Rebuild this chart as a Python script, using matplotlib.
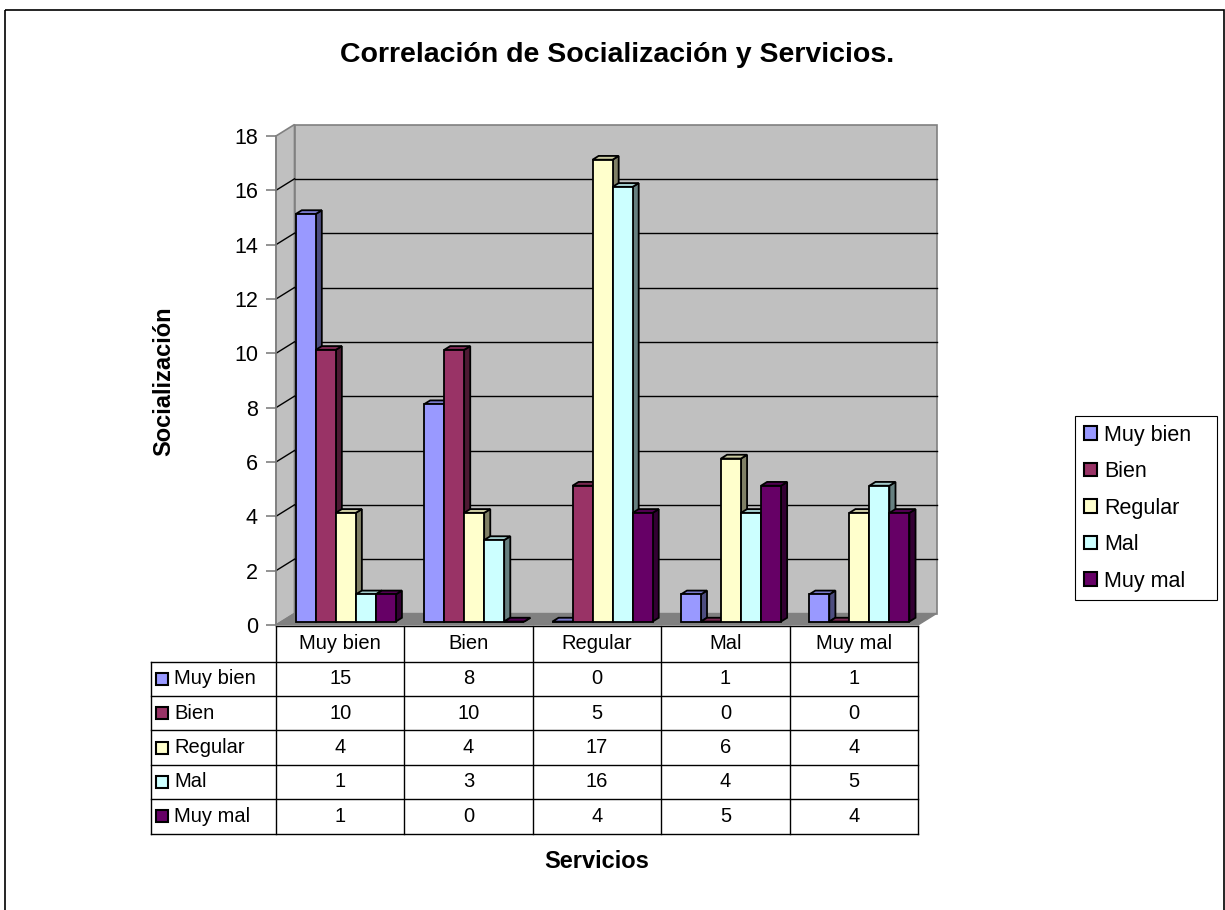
import matplotlib
matplotlib.use("Agg")
import matplotlib.pyplot as plt
from matplotlib.patches import Polygon, Rectangle, Patch
from matplotlib.lines import Line2D

plt.rcParams['font.family'] = ['Liberation Sans', 'DejaVu Sans']

# --- data -------------------------------------------------------------
categories = ["Muy bien", "Bien", "Regular", "Mal", "Muy mal"]
series_names = ["Muy bien", "Bien", "Regular", "Mal", "Muy mal"]
muy_bien = [15, 8, 0, 1, 1]
bien = [10, 10, 5, 0, 0]
regular = [4, 4, 17, 6, 4]
mal = [1, 3, 16, 4, 5]
muy_mal = [1, 0, 4, 5, 4]
series_values = [muy_bien, bien, regular, mal, muy_mal]
colors = ["#9999FF", "#993366", "#FFFFCC", "#CCFFFF", "#660066"]
y_ticks = list(range(0, 19, 2))

title = "Correlación de Socialización y Servicios."
x_title = "Servicios"
y_title = "Socialización"

# --- figure -----------------------------------------------------------
W, H = 1225, 910
fig = plt.figure(figsize=(W / 100, H / 100), dpi=100)
fig.patch.set_facecolor("white")

# pixel-space overlay for frame, titles and data table
deco = fig.add_axes([0, 0, 1, 1], zorder=0)
deco.set_xlim(0, W)
deco.set_ylim(H, 0)
deco.axis("off")

# chart frame
deco.add_patch(Rectangle((5, 10), 1219, 920, fill=False, edgecolor="black",
                         linewidth=1.2, clip_on=False))

deco.text(617, 55, title, ha="center", va="center", fontsize=20.5,
          fontweight="bold")
deco.text(164, 381, y_title, ha="center", va="center", rotation=90,
          fontsize=17, fontweight="bold")
deco.text(597, 861, x_title, ha="center", va="center", fontsize=17,
          fontweight="bold")

# --- pseudo-3D column plot --------------------------------------------
left_px, right_px, zero_px, top_px = 276, 918, 625, 136
ax = fig.add_axes([left_px / W, (H - zero_px) / H,
                   (right_px - left_px) / W, (zero_px - top_px) / H], zorder=2)
ncat = len(categories)
ymax = 18
ax.set_xlim(0, ncat)
ax.set_ylim(0, ymax)
ax.patch.set_visible(False)
for s in ["top", "right", "bottom"]:
    ax.spines[s].set_visible(False)
ax.spines["left"].set_color("#808080")
ax.spines["left"].set_linewidth(1.2)
ax.set_xticks([])
ax.set_yticks(y_ticks)
ax.set_yticklabels([str(t) for t in y_ticks])
ax.tick_params(axis="y", direction="out", length=7, width=1.2,
               color="#808080", labelsize=15.5, pad=6)

px_x = (right_px - left_px) / ncat     # pixels per category
px_y = (zero_px - top_px) / ymax       # pixels per unit
DX = 18.5 / px_x                        # depth offset in x (data units)
DY = 11.5 / px_y                        # depth offset in y (data units)

wall = "#C0C0C0"
edge_gray = "#808080"

# side wall, back wall, floor
ax.add_patch(Polygon([(0, 0), (DX, DY), (DX, ymax + DY), (0, ymax)],
                     closed=True, facecolor=wall, edgecolor=edge_gray,
                     linewidth=1.2, clip_on=False, zorder=1))
ax.add_patch(Polygon([(DX, DY), (ncat + DX, DY), (ncat + DX, ymax + DY),
                      (DX, ymax + DY)], closed=True, facecolor=wall,
                     edgecolor=edge_gray, linewidth=1.2, clip_on=False,
                     zorder=1))
ax.add_patch(Polygon([(0, 0), (ncat, 0), (ncat + DX, DY), (DX, DY)],
                     closed=True, facecolor="#808080", edgecolor=edge_gray,
                     linewidth=1.0, clip_on=False, zorder=1))

# gridlines on walls
for t in y_ticks[1:-1]:
    ax.add_line(Line2D([DX, ncat + DX], [t + DY, t + DY], color="black",
                       linewidth=1.0, clip_on=False, zorder=2))
    ax.add_line(Line2D([0, DX], [t, t + DY], color="black", linewidth=1.0,
                       clip_on=False, zorder=2))


def shade(hexcol, f):
    r, g, b = matplotlib.colors.to_rgb(hexcol)
    return (r * f, g * f, b * f)


nser = len(series_values)
bw = 0.156
gap = (1 - nser * bw) / 2
d0, d1 = 0.30, 0.63
bx0, by0 = d0 * DX, d0 * DY
ddx, ddy = (d1 - d0) * DX, (d1 - d0) * DY

z = 3
for c in range(ncat):
    for s in range(nser):
        v = series_values[s][c]
        x0 = c + gap + s * bw + bx0
        col = colors[s]
        # right side face
        ax.add_patch(Polygon([(x0 + bw, by0), (x0 + bw, by0 + v),
                              (x0 + bw + ddx, by0 + v + ddy),
                              (x0 + bw + ddx, by0 + ddy)], closed=True,
                             facecolor=shade(col, 0.5), edgecolor="black",
                             linewidth=1.3, clip_on=False, zorder=z))
        # top face
        ax.add_patch(Polygon([(x0, by0 + v), (x0 + bw, by0 + v),
                              (x0 + bw + ddx, by0 + v + ddy),
                              (x0 + ddx, by0 + v + ddy)], closed=True,
                             facecolor=shade(col, 0.8), edgecolor="black",
                             linewidth=1.3, clip_on=False, zorder=z))
        # front face
        ax.bar(x0, v, width=bw, bottom=by0, align="edge", color=col,
               edgecolor="black", linewidth=1.3, zorder=z + 0.5,
               clip_on=False)
        z += 1

# --- data table ---------------------------------------------------------
tab_left = 151
head_top, head_bot = 626, 661.5
row_h = 34.4
col_edges = [left_px + i * px_x for i in range(ncat + 1)]
tab_bottom = head_bot + nser * row_h
lw_t = 1.0
fs_t = 14.5

# horizontal lines
deco.plot([left_px, right_px], [head_top, head_top], color="black", lw=lw_t)
for i in range(nser + 1):
    yy = head_bot + i * row_h
    deco.plot([tab_left, right_px], [yy, yy], color="black", lw=lw_t)
# vertical lines
for xx in col_edges:
    deco.plot([xx, xx], [head_top, tab_bottom], color="black", lw=lw_t)
deco.plot([tab_left, tab_left], [head_bot, tab_bottom], color="black", lw=lw_t)

for i, cat in enumerate(categories):
    deco.text((col_edges[i] + col_edges[i + 1]) / 2, (head_top + head_bot) / 2,
              cat, ha="center", va="center", fontsize=fs_t)
for s in range(nser):
    yc = head_bot + (s + 0.5) * row_h
    deco.add_patch(Rectangle((156, yc - 6), 12, 12, facecolor=colors[s],
                             edgecolor="black", linewidth=1.5))
    deco.text(174, yc, series_names[s], ha="left", va="center", fontsize=fs_t)
    for c in range(ncat):
        deco.text((col_edges[c] + col_edges[c + 1]) / 2, yc,
                  str(series_values[s][c]), ha="center", va="center",
                  fontsize=fs_t)

# --- legend -------------------------------------------------------------
handles = [Patch(facecolor=colors[s], edgecolor="black", linewidth=1.5)
           for s in range(nser)]
leg = fig.legend(handles, series_names, loc="upper left",
                 bbox_to_anchor=(1075 / W, 1 - 416 / H, 142 / W, 0),
                 mode="expand", frameon=True,
                 fancybox=False, edgecolor="black", framealpha=1,
                 fontsize=15.5, handlelength=0.6, handleheight=0.6,
                 handletextpad=0.35, labelspacing=0.72, borderpad=0.4,
                 borderaxespad=0)
leg.get_frame().set_linewidth(0.8)
leg.set_zorder(5)

fig.savefig("out.png", dpi=100, facecolor="white")
